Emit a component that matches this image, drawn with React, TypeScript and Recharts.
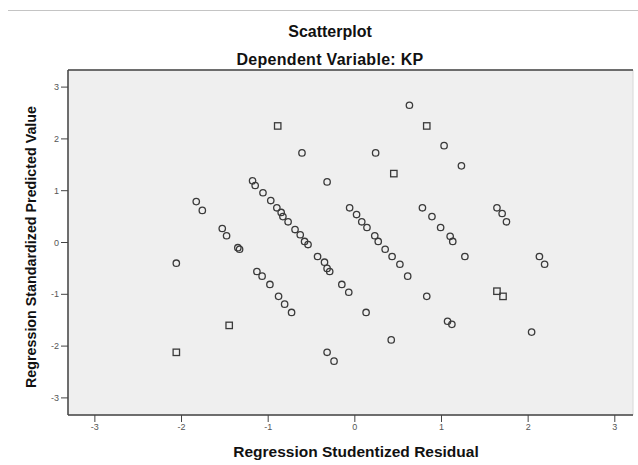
import React from "react";
import {
  ScatterChart,
  Scatter,
  XAxis,
  YAxis,
  ReferenceArea,
  ReferenceLine,
} from "recharts";

// residual (x) / predicted (y) pairs
const circleX = [
  0.63, -0.61, 0.24, 1.03, 1.23, -0.32, -1.18, -1.15, -1.06, -0.97, -0.9, -0.85,
  -0.83, -0.77, -0.69, -0.63, -0.58, -0.54, -0.43, -0.35, -0.32, -0.29, -0.15,
  -0.07, 0.13, -1.13, -1.07, -0.98, -0.88, -0.81, -0.73, -0.06, 0.02, 0.08, 0.14,
  0.23, 0.27, 0.35, 0.43, 0.52, 0.61, 0.83, 0.78, 0.89, 0.99, 1.1, 1.13, 1.27,
  1.07, 1.12, 1.64, 1.7, 1.75, 2.13, 2.19, 2.04, -1.53, -1.48, -1.35, -1.33,
  -2.06, -1.83, -1.76, -0.32, -0.24, 0.42,
];
const circleY = [
  2.65, 1.73, 1.73, 1.87, 1.48, 1.17, 1.19, 1.1, 0.96, 0.81, 0.67, 0.58, 0.5,
  0.4, 0.25, 0.15, 0.02, -0.04, -0.27, -0.38, -0.5, -0.56, -0.81, -0.96, -1.35,
  -0.56, -0.65, -0.81, -1.04, -1.19, -1.35, 0.67, 0.54, 0.4, 0.29, 0.13, 0.02,
  -0.13, -0.27, -0.42, -0.65, -1.04, 0.67, 0.5, 0.29, 0.12, 0.02, -0.27, -1.52,
  -1.58, 0.67, 0.56, 0.4, -0.27, -0.42, -1.73, 0.27, 0.13, -0.1, -0.13, -0.4,
  0.79, 0.62, -2.12, -2.29, -1.88,
];
const squareX = [-0.89, 0.83, 0.45, 1.64, 1.71, -1.45, -2.06];
const squareY = [2.25, 2.25, 1.33, -0.94, -1.04, -1.6, -2.12];

const axisTicks = [-3, -2, -1, 0, 1, 2, 3];

const circles = circleX.map((x, i) => ({ x, y: circleY[i] }));
const squares = squareX.map((x, i) => ({ x, y: squareY[i] }));

const X_DOMAIN = [-3.31, 3.21];
const Y_DOMAIN = [-3.33, 3.33];

const CircleDot = (props: any) => (
  <circle
    cx={props.cx}
    cy={props.cy}
    r={3.2}
    fill="none"
    stroke="#3a3a3a"
    strokeWidth={1.3}
  />
);

const SquareDot = (props: any) => (
  <rect
    x={props.cx - 3.2}
    y={props.cy - 3.2}
    width={6.4}
    height={6.4}
    fill="none"
    stroke="#3a3a3a"
    strokeWidth={1.3}
  />
);

const font = "'Liberation Sans', Arial, sans-serif";

const titleStyle: React.CSSProperties = {
  position: "absolute",
  left: 0,
  width: 660,
  textAlign: "center",
  fontWeight: "bold",
  fontSize: 16,
  lineHeight: "18px",
  color: "#111",
};

const App: React.FC = () => {
  return (
    <div
      style={{
        position: "absolute",
        left: 0,
        top: 0,
        width: 638,
        height: 465,
        background: "#fff",
        fontFamily: font,
      }}
    >
      <div
        style={{
          position: "absolute",
          left: 8,
          right: 0,
          top: 10,
          borderTop: "1px solid #c4c4c4",
        }}
      />
      <div style={{ ...titleStyle, top: 23 }}>Scatterplot</div>
      <div style={{ ...titleStyle, top: 51, letterSpacing: 0.3 }}>
        Dependent Variable: KP
      </div>
      <div
        style={{
          position: "absolute",
          left: 31,
          top: 247,
          transform: "translate(-50%, -50%) rotate(-90deg)",
          whiteSpace: "nowrap",
          fontWeight: "bold",
          fontSize: 14.3,
          lineHeight: "16px",
          color: "#111",
        }}
      >
        Regression Standardized Predicted Value
      </div>
      <div
        style={{
          ...titleStyle,
          width: 712,
          top: 443,
          fontSize: 15.5,
        }}
      >
        Regression Studentized Residual
      </div>
      <div style={{ position: "absolute", left: 0, top: 0 }}>
        <ScatterChart
          width={638}
          height={465}
          margin={{ top: 70, right: 5, bottom: 0, left: 38 }}
        >
          <ReferenceArea
            x1={X_DOMAIN[0]}
            x2={X_DOMAIN[1]}
            y1={Y_DOMAIN[0]}
            y2={Y_DOMAIN[1]}
            fill="#efefef"
            fillOpacity={1}
            stroke="#d8d8d8"
          />
          <ReferenceLine y={Y_DOMAIN[1]} stroke="#444" strokeWidth={1.5} />
          <XAxis
            type="number"
            dataKey="x"
            domain={X_DOMAIN}
            ticks={axisTicks}
            allowDataOverflow
            height={50}
            tickSize={7}
            stroke="#444"
            axisLine={{ stroke: "#444", strokeWidth: 1.5 }}
            tick={{ fontSize: 9, fill: "#555", fontFamily: font }}
          />
          <YAxis
            type="number"
            dataKey="y"
            domain={Y_DOMAIN}
            ticks={axisTicks}
            allowDataOverflow
            width={30}
            tickSize={7}
            stroke="#444"
            axisLine={{ stroke: "#444", strokeWidth: 1.5 }}
            tick={{ fontSize: 9, fill: "#555", fontFamily: font }}
          />
          <Scatter
            data={circles}
            shape={CircleDot}
            isAnimationActive={false}
          />
          <Scatter
            data={squares}
            shape={SquareDot}
            isAnimationActive={false}
          />
        </ScatterChart>
      </div>
    </div>
  );
};

export default App;
